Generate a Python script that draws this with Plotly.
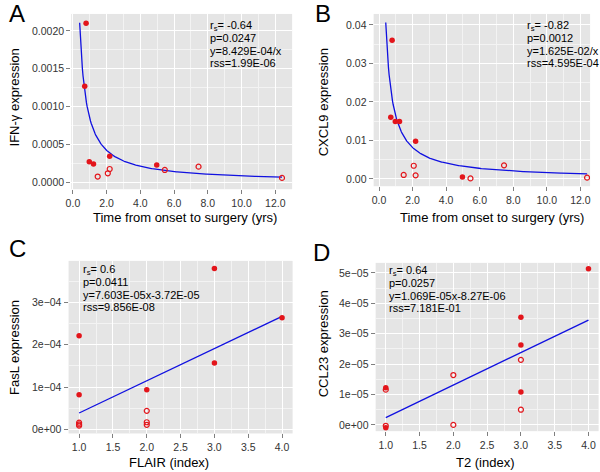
import numpy as np
import plotly.graph_objects as go

W, H = 600, 472

# ---------------- data ----------------
time_filled = [0.78, 0.70, 0.97, 1.22, 2.18, 4.97]
time_open = [1.47, 2.07, 2.18, 5.45, 7.45, 12.4]
ifng_filled = [0.00210, 0.00127, 0.000272, 0.000241, 0.000342, 0.000228]
ifng_open = [0.000075, 0.000118, 0.000175, 0.000162, 0.000206, 0.000057]
cxcl9_filled = [0.0360, 0.0160, 0.0149, 0.0149, 0.00975, 0.0005]
cxcl9_open = [0.0010, 0.0034, 0.0009, 0.0001, 0.0035, 0.0003]

flair_filled = [1, 1, 2, 3, 3, 4]
fasl_filled = [2.21e-4, 0.82e-4, 0.94e-4, 3.80e-4, 1.57e-4, 2.64e-4]
flair_open = [1, 1, 1, 2, 2, 2]
fasl_open = [0.16e-4, 0.12e-4, 0.09e-4, 0.44e-4, 0.17e-4, 0.11e-4]

t2_filled = [4, 3, 3, 3, 1, 1]
ccl23_filled = [5.14e-5, 3.54e-5, 2.63e-5, 1.08e-5, 1.22e-5, -0.09e-5]
t2_open = [3, 3, 2, 2, 1, 1]
ccl23_open = [2.14e-5, 0.50e-5, 1.64e-5, 0.0, 1.16e-5, -0.03e-5]

# fitted models as printed on the chart
fit_a_coef = 8.429e-04
fit_b_coef = 1.625e-02
fit_c_slope, fit_c_icpt = 7.603e-05, -3.72e-05
fit_d_slope, fit_d_icpt = 1.069e-05, -8.27e-06
fit_time_span = [0.4, 12.4]
fit_index_span = [1, 4]

stats_a = ["r<sub>s</sub>= -0.64", "p=0.0247", "y=8.429E-04/x", "rss=1.99E-06"]
stats_b = ["r<sub>s</sub>= -0.82", "p=0.0012", "y=1.625E-02/x", "rss=4.595E-04"]
stats_c = ["r<sub>s</sub>= 0.6", "p=0.0411", "y=7.603E-05x-3.72E-05", "rss=9.856E-08"]
stats_d = ["r<sub>s</sub>= 0.64", "p=0.0257", "y=1.069E-05x-8.27E-06", "rss=7.181E-01"]

c_tickvals = [0, 1e-4, 2e-4, 3e-4]
c_ticktext = ["0e+00", "1e\u221204", "2e\u221204", "3e\u221204"]
d_tickvals = [0, 1e-5, 2e-5, 3e-5, 4e-5, 5e-5]
d_ticktext = ["0e+00", "1e\u221205", "2e\u221205", "3e\u221205", "4e\u221205", "5e\u221205"]

RED = "#E3151B"
BLUE = "#1010E0"
FONT = "Liberation Sans, Arial, sans-serif"


def dx(l, r):
    return [l / W, r / W]


def dy(t, b):
    return [1 - b / H, 1 - t / H]


fig = go.Figure()

t_grid = np.linspace(fit_time_span[0], fit_time_span[1], 300)
i_grid = np.array(fit_index_span, dtype=float)

panels = [
    ("x", "y", time_filled, ifng_filled, time_open, ifng_open, t_grid, fit_a_coef / t_grid),
    ("x2", "y2", time_filled, cxcl9_filled, time_open, cxcl9_open, t_grid, fit_b_coef / t_grid),
    ("x3", "y3", flair_filled, fasl_filled, flair_open, fasl_open, i_grid, fit_c_slope * i_grid + fit_c_icpt),
    ("x4", "y4", t2_filled, ccl23_filled, t2_open, ccl23_open, i_grid, fit_d_slope * i_grid + fit_d_icpt),
]

for xa, ya, xf, yf, xo, yo, fx, fy in panels:
    fig.add_trace(go.Scatter(x=fx, y=fy, mode="lines", xaxis=xa, yaxis=ya,
                             line=dict(color=BLUE, width=1.3), showlegend=False))
    fig.add_trace(go.Scatter(x=xf, y=yf, mode="markers", xaxis=xa, yaxis=ya,
                             marker=dict(symbol="circle", size=5.5, color=RED, line=dict(width=0)),
                             showlegend=False))
    fig.add_trace(go.Scatter(x=xo, y=yo, mode="markers", xaxis=xa, yaxis=ya,
                             marker=dict(symbol="circle-open", size=5, color=RED, line=dict(width=1.2)),
                             showlegend=False))

common = dict(showgrid=True, gridcolor="white", gridwidth=1.1, zeroline=False,
              ticks="outside", ticklen=4, tickwidth=1, tickcolor="#7F7F7F",
              tickfont=dict(family=FONT, size=10.5, color="#333333"), showline=False)
minor = dict(showgrid=True, gridcolor="#F3F3F3", gridwidth=0.6, ticks="")

layout = dict(
    width=W, height=H, margin=dict(l=0, r=0, t=0, b=0),
    paper_bgcolor="white", plot_bgcolor="#E5E5E5",
    font=dict(family=FONT, color="black"),
    xaxis=dict(common, domain=dx(66, 289.5), range=[-0.1, 13.0], anchor="y",
               tickmode="linear", tick0=0, dtick=2, tickformat=".1f",
               minor=dict(minor, tickmode="linear", tick0=0, dtick=1)),
    yaxis=dict(common, domain=dy(14, 190), range=[-0.0000921, 0.002224], anchor="x",
               tickmode="linear", tick0=0, dtick=0.0005, tickformat=".4f",
               minor=dict(minor, tickmode="linear", tick0=0, dtick=0.00025)),
    xaxis2=dict(common, domain=dx(372, 591), range=[-0.32, 12.58], anchor="y2",
                tickmode="linear", tick0=0, dtick=2, tickformat=".1f",
                minor=dict(minor, tickmode="linear", tick0=0, dtick=1)),
    yaxis2=dict(common, domain=dy(14, 187), range=[-0.00192, 0.04285], anchor="x2",
                tickmode="linear", tick0=0, dtick=0.01, tickformat=".2f",
                minor=dict(minor, tickmode="linear", tick0=0, dtick=0.005)),
    xaxis3=dict(common, domain=dx(63.3, 290), range=[0.844, 4.156], anchor="y3",
                tickmode="linear", tick0=1, dtick=0.5, tickformat=".1f",
                minor=dict(minor, tickmode="linear", tick0=1, dtick=0.25)),
    yaxis3=dict(common, domain=dy(262, 435.3), range=[-0.094e-4, 3.98e-4], anchor="x3",
                tickmode="array", tickvals=c_tickvals, ticktext=c_ticktext,
                minor=dict(minor, tickmode="linear", tick0=0, dtick=0.5e-4)),
    xaxis4=dict(common, domain=dx(374, 599.6), range=[0.85, 4.15], anchor="y4",
                tickmode="linear", tick0=1, dtick=0.5, tickformat=".1f",
                minor=dict(minor, tickmode="linear", tick0=1, dtick=0.25)),
    yaxis4=dict(common, domain=dy(264, 433), range=[-0.206e-5, 5.33e-5], anchor="x4",
                tickmode="array", tickvals=d_tickvals, ticktext=d_ticktext,
                minor=dict(minor, tickmode="linear", tick0=0, dtick=0.5e-5)),
)

ann = []


def text(x, y, s, size, angle=0, xanchor="center"):
    ann.append(dict(x=x / W, y=1 - y / H, xref="paper", yref="paper", text=s,
                    showarrow=False, xanchor=xanchor, yanchor="middle",
                    textangle=angle, font=dict(family=FONT, size=size, color="black")))


# panel letters
text(1, 13.5, "A", 24, xanchor="left")
text(311, 13.5, "B", 24, xanchor="left")
text(1, 250, "C", 24, xanchor="left")
text(309, 254, "D", 24, xanchor="left")

# stats blocks
for (x0, y0), lines in [((204, 26), stats_a), ((525.5, 26), stats_b),
                        ((76, 271), stats_c), ((386, 272), stats_d)]:
    for i, s in enumerate(lines):
        text(x0, y0 + i * 12.5, s, 11, xanchor="left")

# axis titles
text(181.5, 218, "Time from onset to surgery (yrs)", 13)
text(491.5, 218, "Time from onset to surgery (yrs)", 13)
text(165, 464, "FLAIR (index)", 13)
text(485, 464, "T2 (index)", 13)
text(9, 98, "IFN-\u03b3 expression", 13, angle=-90)
text(321.5, 103, "CXCL9 expression", 13, angle=-90)
text(8.5, 349, "FasL expression", 13, angle=-90)
text(321.5, 345, "CCL23 expression", 13, angle=-90)

layout["annotations"] = ann
fig.update_layout(**layout)
fig.write_html("out.html", config={"displayModeBar": False},
               post_script="document.body.style.margin='0px';document.body.style.overflow='hidden';")
